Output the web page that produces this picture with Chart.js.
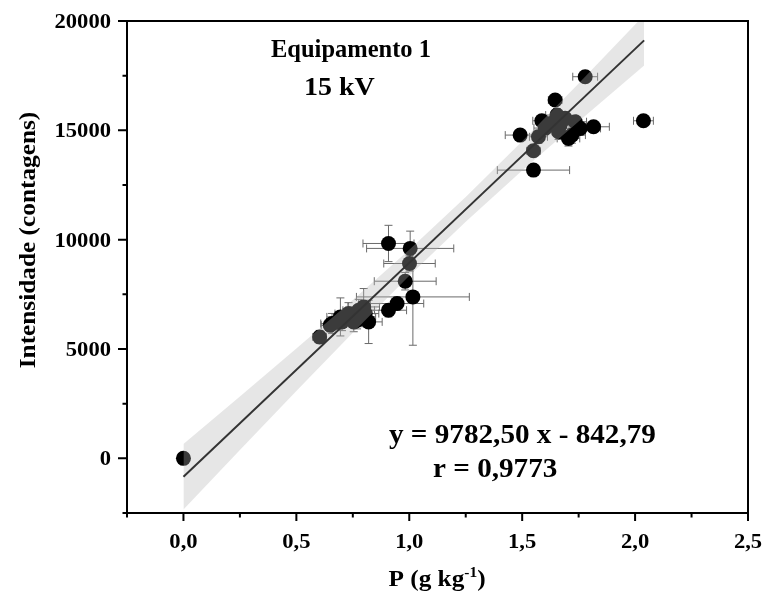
<!DOCTYPE html>
<html>
<head>
<meta charset="utf-8">
<script src="https://cdn.jsdelivr.net/npm/chart.js@4.4.1/dist/chart.umd.min.js"></script>
<style>
  html, body { margin: 0; padding: 0; background: #fff; }
</style>
</head>
<body>
<canvas id="calChart" width="765" height="598"></canvas>
<script>
// Samples: P content (g/kg), measured intensity (counts) and their error bars
const pValues   = [0.000, 0.603, 0.650, 0.658, 0.680, 0.695, 0.702, 0.731, 0.754, 0.769, 0.776, 0.791, 0.798, 0.805, 0.820,
                   0.908, 0.946, 1.016, 0.982, 1.001, 1.004, 0.908,
                   1.491, 1.550, 1.550, 1.572, 1.587, 1.602, 1.624, 1.646, 1.654, 1.661, 1.668, 1.690, 1.705, 1.720,
                   1.735, 1.757, 1.779, 1.816, 2.037];
const intensity = [0, 5550, 6090, 6165, 6240, 6467, 6240, 6620, 6240, 6320, 6770, 6470, 6925, 6620, 6240,
                   6773, 7080, 7382, 8100, 8910, 9600, 9826,
                   14783, 13181, 14064, 14705, 15437, 15103, 15318, 16384, 15698, 14934, 15240, 15547, 14632, 14783,
                   15392, 15089, 17452, 15162, 15437];
const pErr      = [0, 0.03, 0.04, 0.05, 0.04, 0.06, 0.05, 0.06, 0.05, 0.06, 0.07, 0.06, 0.07, 0.06, 0.06,
                   0.08, 0.118, 0.25, 0.137, 0.114, 0.193, 0.113,
                   0.066, 0.16, 0.03, 0.04, 0.04, 0.05, 0.04, 0.03, 0.05, 0.05, 0.05, 0.05, 0.05, 0.06,
                   0.05, 0.09, 0.055, 0.07, 0.044];
const intErr    = [0, 300, 300, 460, 350, 870, 400, 500, 450, 400, 500, 450, 840, 400, 990,
                   300, 300, 2210, 400, 350, 790, 830,
                   200, 200, 250, 300, 250, 300, 250, 200, 300, 350, 300, 300, 350, 370,
                   250, 300, 250, 250, 200];

// Linear fit and its confidence band
const fitSlope = 9782.50;
const fitIntercept = -842.79;
const fitX = [0, 2.04];
const bandX     = [0, 0.25, 0.5, 0.75, 1.0, 1.25, 1.5, 1.75, 2.04];
const bandUpper = [650, 2825, 5020, 7245, 9535, 11950, 14505, 17145, 20265];
const bandLower = [-2335, 380, 3080, 5745, 8345, 10820, 13160, 15405, 17965];

// Axis ticks
const xTicks      = [0, 0.5, 1.0, 1.5, 2.0, 2.5];
const xMinorTicks = [-0.25, 0.25, 0.75, 1.25, 1.75, 2.25];
const yTicks      = [0, 5000, 10000, 15000, 20000];
const yMinorTicks = [-2500, 2500, 7500, 12500, 17500];

const points = pValues.map((p, i) => ({ x: p, y: intensity[i] }));
const fitPts = fitX.map(x => ({ x: x, y: fitSlope * x + fitIntercept }));
const upperPts = bandX.map((x, i) => ({ x: x, y: bandUpper[i] }));
const lowerPts = bandX.map((x, i) => ({ x: x, y: bandLower[i] }));

const SERIF = '"Liberation Serif", "Times New Roman", serif';

// horizontally stretched text, the figure's lettering is a bit wide
function wideText(ctx, txt, x, y, size, align, sx) {
    ctx.save();
    ctx.font = 'bold ' + size + 'px ' + SERIF;
    ctx.textAlign = align;
    ctx.textBaseline = 'alphabetic';
    ctx.translate(x, y);
    ctx.scale(sx, 1);
    ctx.fillText(txt, 0, 0);
    ctx.restore();
}

const decorations = {
    id: 'decorations',
    beforeDatasetsDraw(chart) {
        // error bars go under the markers
        const ctx = chart.ctx;
        const xs = chart.scales.x, ys = chart.scales.y;
        const cap = 4;
        ctx.save();
        ctx.strokeStyle = '#6a6a6a';
        ctx.lineWidth = 1;
        pValues.forEach((p, i) => {
            const px = xs.getPixelForValue(p);
            const py = ys.getPixelForValue(intensity[i]);
            if (pErr[i] > 0) {
                const x0 = xs.getPixelForValue(p - pErr[i]);
                const x1 = xs.getPixelForValue(p + pErr[i]);
                ctx.beginPath();
                ctx.moveTo(x0, py); ctx.lineTo(x1, py);
                ctx.moveTo(x0, py - cap); ctx.lineTo(x0, py + cap);
                ctx.moveTo(x1, py - cap); ctx.lineTo(x1, py + cap);
                ctx.stroke();
            }
            if (intErr[i] > 0) {
                const y0 = ys.getPixelForValue(intensity[i] - intErr[i]);
                const y1 = ys.getPixelForValue(intensity[i] + intErr[i]);
                ctx.beginPath();
                ctx.moveTo(px, y0); ctx.lineTo(px, y1);
                ctx.moveTo(px - cap, y0); ctx.lineTo(px + cap, y0);
                ctx.moveTo(px - cap, y1); ctx.lineTo(px + cap, y1);
                ctx.stroke();
            }
        });
        ctx.restore();
    },
    afterDraw(chart) {
        const ctx = chart.ctx;
        const area = chart.chartArea;
        const xs = chart.scales.x, ys = chart.scales.y;

        // frame
        ctx.save();
        ctx.strokeStyle = '#000';
        ctx.lineWidth = 2;
        ctx.strokeRect(area.left, area.top, area.right - area.left, area.bottom - area.top);

        // tick marks (outward)
        ctx.beginPath();
        xTicks.forEach(v => { const x = xs.getPixelForValue(v); ctx.moveTo(x, area.bottom); ctx.lineTo(x, area.bottom + 8); });
        xMinorTicks.forEach(v => { const x = xs.getPixelForValue(v); ctx.moveTo(x, area.bottom); ctx.lineTo(x, area.bottom + 4.5); });
        yTicks.forEach(v => { const y = ys.getPixelForValue(v); ctx.moveTo(area.left, y); ctx.lineTo(area.left - 9, y); });
        yMinorTicks.forEach(v => { const y = ys.getPixelForValue(v); ctx.moveTo(area.left, y); ctx.lineTo(area.left - 4.5, y); });
        ctx.stroke();
        ctx.fillStyle = '#000';

        // tick labels
        xTicks.forEach(v => {
            wideText(ctx, v.toFixed(1).replace('.', ','), xs.getPixelForValue(v), area.bottom + 35, 20, 'center', 1.13);
        });
        yTicks.forEach(v => {
            wideText(ctx, String(v), area.left - 16, ys.getPixelForValue(v) + 7, 20, 'right', 1.13);
        });

        // y axis title
        ctx.save();
        ctx.translate(27, 240);
        ctx.rotate(-Math.PI / 2);
        wideText(ctx, 'Intensidade (contagens)', 0, 8, 23, 'center', 1.1);
        ctx.restore();

        // x axis title with superscript
        ctx.save();
        ctx.font = 'bold 23px ' + SERIF;
        const a = 'P (g kg', c = ')';
        const wa = ctx.measureText(a).width, wc = ctx.measureText(c).width;
        ctx.font = 'bold 14px ' + SERIF;
        const wb = ctx.measureText('-1').width;
        const sx = 1.1;
        const total = (wa + wb + wc) * sx;
        const x0 = 437 - total / 2;
        ctx.translate(x0, 586);
        ctx.scale(sx, 1);
        ctx.textAlign = 'left';
        ctx.font = 'bold 23px ' + SERIF;
        ctx.fillText(a, 0, 0);
        ctx.font = 'bold 14px ' + SERIF;
        ctx.fillText('-1', wa, -9);
        ctx.font = 'bold 23px ' + SERIF;
        ctx.fillText(c, wa + wb, 0);
        ctx.restore();

        // annotations
        wideText(ctx, 'Equipamento 1', 351, 57, 25, 'center', 0.98);
        wideText(ctx, '15 kV', 304, 95, 25, 'left', 1.12);
        wideText(ctx, 'y = 9782,50 x - 842,79', 389, 443, 27, 'left', 1.08);
        wideText(ctx, 'r = 0,9773', 433, 477, 27, 'left', 1.08);
        ctx.restore();
    }
};

new Chart(document.getElementById('calChart'), {
    type: 'scatter',
    data: {
        datasets: [
            {
                label: 'Amostras',
                data: points,
                backgroundColor: '#000',
                borderWidth: 0,
                pointRadius: 7.5,
                order: 3
            },
            {
                type: 'line',
                data: upperPts,
                borderColor: 'transparent',
                borderWidth: 0,
                pointRadius: 0,
                fill: false,
                order: 2
            },
            {
                type: 'line',
                data: lowerPts,
                borderColor: 'transparent',
                borderWidth: 0,
                pointRadius: 0,
                fill: '-1',
                backgroundColor: 'rgba(180, 180, 180, 0.33)',
                order: 2
            },
            {
                type: 'line',
                data: fitPts,
                borderColor: '#333',
                borderWidth: 2,
                pointRadius: 0,
                fill: false,
                order: 1
            }
        ]
    },
    options: {
        responsive: false,
        animation: false,
        events: [],
        layout: { padding: { left: 127, right: 17, top: 21, bottom: 85 } },
        scales: {
            x: { type: 'linear', min: -0.25, max: 2.5, display: false },
            y: { type: 'linear', min: -2500, max: 20000, display: false }
        },
        plugins: {
            legend: { display: false },
            tooltip: { enabled: false }
        }
    },
    plugins: [decorations]
});
</script>
</body>
</html>
